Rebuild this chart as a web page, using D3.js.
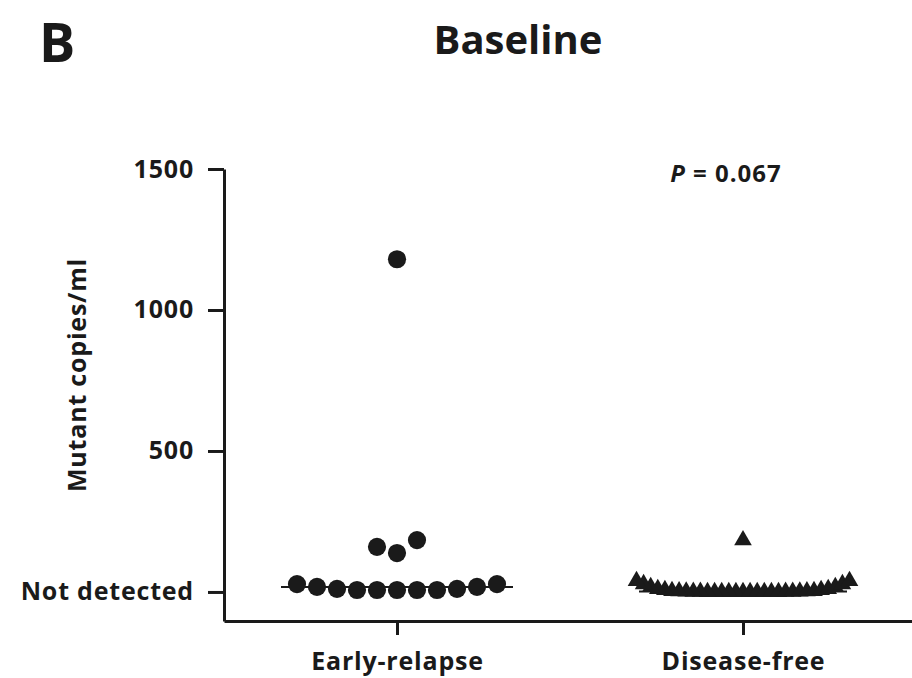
<!DOCTYPE html>
<html>
<head>
<meta charset="utf-8">
<script src="https://cdn.jsdelivr.net/npm/d3@7"></script>
<style>
  body { margin: 0; background: #fff; }
  text { font-family: "Open Sans", "Noto Sans", sans-serif; font-weight: bold; fill: #1a1a1a; }
</style>
</head>
<body>
<div id="chart"></div>
<script>
// groups on the x axis
const categories = ["Early-relapse", "Disease-free"];

// mutant copies/ml (near-zero values = "not detected" row)
const earlyRelapse = [1180, 184, 160, 138, 28, 28, 18, 18, 11, 11, 7, 7, 7, 7, 7];
const diseaseFree = [184, 39, 39, 28, 28, 18, 18, 11, 11, 7, 7, 4, 4, 3, 3, 2, 2,
                     1, 1, 1, 1, 0, 0, 0, 0, 0, 0, 0, 0, 0, 0, 0];

const yTicks = [0, 500, 1000, 1500];
const yTickLabels = ["Not detected", "500", "1000", "1500"];
const pText = "0.067";

const width = 912;
const height = 678;
const plotLeft = 224;
const plotBottom = 621;
const plotTop = 169;

const svg = d3.select('#chart')
    .append('svg')
    .attr('width', width)
    .attr('height', height);

const yScale = d3.scaleLinear()
    .domain([-103, 1500])
    .range([plotBottom, plotTop]);

const xScale = d3.scalePoint()
    .domain(categories)
    .range([plotLeft, width + 4])
    .padding(0.5);

// panel letter + title
svg.append('text')
    .attr('x', 39)
    .attr('y', 62)
    .style('font-size', '54px')
    .text('B');

svg.append('text')
    .attr('x', 518)
    .attr('y', 54)
    .attr('text-anchor', 'middle')
    .style('font-size', '40px')
    .text('Baseline');

// y axis
const yAxis = svg.append('g')
    .attr('transform', `translate(${plotLeft}, 0)`)
    .call(d3.axisLeft(yScale)
        .tickValues(yTicks)
        .tickFormat((d, i) => yTickLabels[i])
        .tickSize(16)
        .tickSizeOuter(0)
        .tickPadding(14));

// x axis
const xAxis = svg.append('g')
    .attr('transform', `translate(0, ${plotBottom})`)
    .call(d3.axisBottom(xScale)
        .tickSize(14)
        .tickSizeOuter(0)
        .tickPadding(14));

svg.selectAll('.domain, .tick line')
    .attr('stroke', '#1a1a1a')
    .attr('stroke-width', 3);
svg.selectAll('.tick text')
    .style('font-size', '25px')
    .style('letter-spacing', '0.8px');
xAxis.selectAll('text').attr('dy', '0.85em');

svg.append('text')
    .attr('transform', `translate(86, 375) rotate(-90)`)
    .attr('text-anchor', 'middle')
    .style('font-size', '25px')
    .style('letter-spacing', '0.8px')
    .text('Mutant copies/ml');

// P value
const p = svg.append('text')
    .attr('x', 726)
    .attr('y', 182)
    .attr('text-anchor', 'middle')
    .style('font-size', '24px')
    .style('letter-spacing', '1px');
p.append('tspan').style('font-style', 'italic').text('P');
p.append('tspan').text(' = ' + pText);

// simple dot-plot layout: values that fall close together share a row,
// lowest one goes to the centre, the rest alternate left/right outward
function swarm(values, cat, spacing, binSize) {
    const sorted = values.slice().sort((a, b) => a - b);
    const bins = [];
    sorted.forEach(v => {
        const last = bins[bins.length - 1];
        if (last && v - last[0] <= binSize) last.push(v);
        else bins.push([v]);
    });
    const out = [];
    bins.forEach(bin => {
        const n = bin.length;
        bin.forEach((v, i) => {
            let slot;
            if (n % 2 == 1) {
                const k = Math.ceil(i / 2);
                slot = i == 0 ? 0 : (i % 2 == 1 ? -k : k);
            } else {
                const k = Math.floor(i / 2) + 0.5;
                slot = i % 2 == 0 ? -k : k;
            }
            out.push({ value: v, x: xScale(cat) + slot * spacing });
        });
    });
    return out;
}

const groups = [
    { cat: categories[0], values: earlyRelapse, symbol: d3.symbolCircle, size: 260, spacing: 20, half: 116 },
    { cat: categories[1], values: diseaseFree, symbol: d3.symbolTriangle, size: 135, spacing: 7.1, half: 104 }
];

groups.forEach(gr => {
    const pts = swarm(gr.values, gr.cat, gr.spacing, 60);
    const med = d3.median(gr.values);

    svg.append('line')
        .attr('x1', xScale(gr.cat) - gr.half)
        .attr('x2', xScale(gr.cat) + gr.half)
        .attr('y1', yScale(med))
        .attr('y2', yScale(med))
        .attr('stroke', '#1a1a1a')
        .attr('stroke-width', 2);

    svg.selectAll(null)
        .data(pts)
        .enter()
        .append('path')
            .attr('d', d3.symbol().type(gr.symbol).size(gr.size))
            .attr('transform', d => `translate(${d.x}, ${yScale(d.value)})`)
            .attr('fill', '#1a1a1a');
});
</script>
</body>
</html>
